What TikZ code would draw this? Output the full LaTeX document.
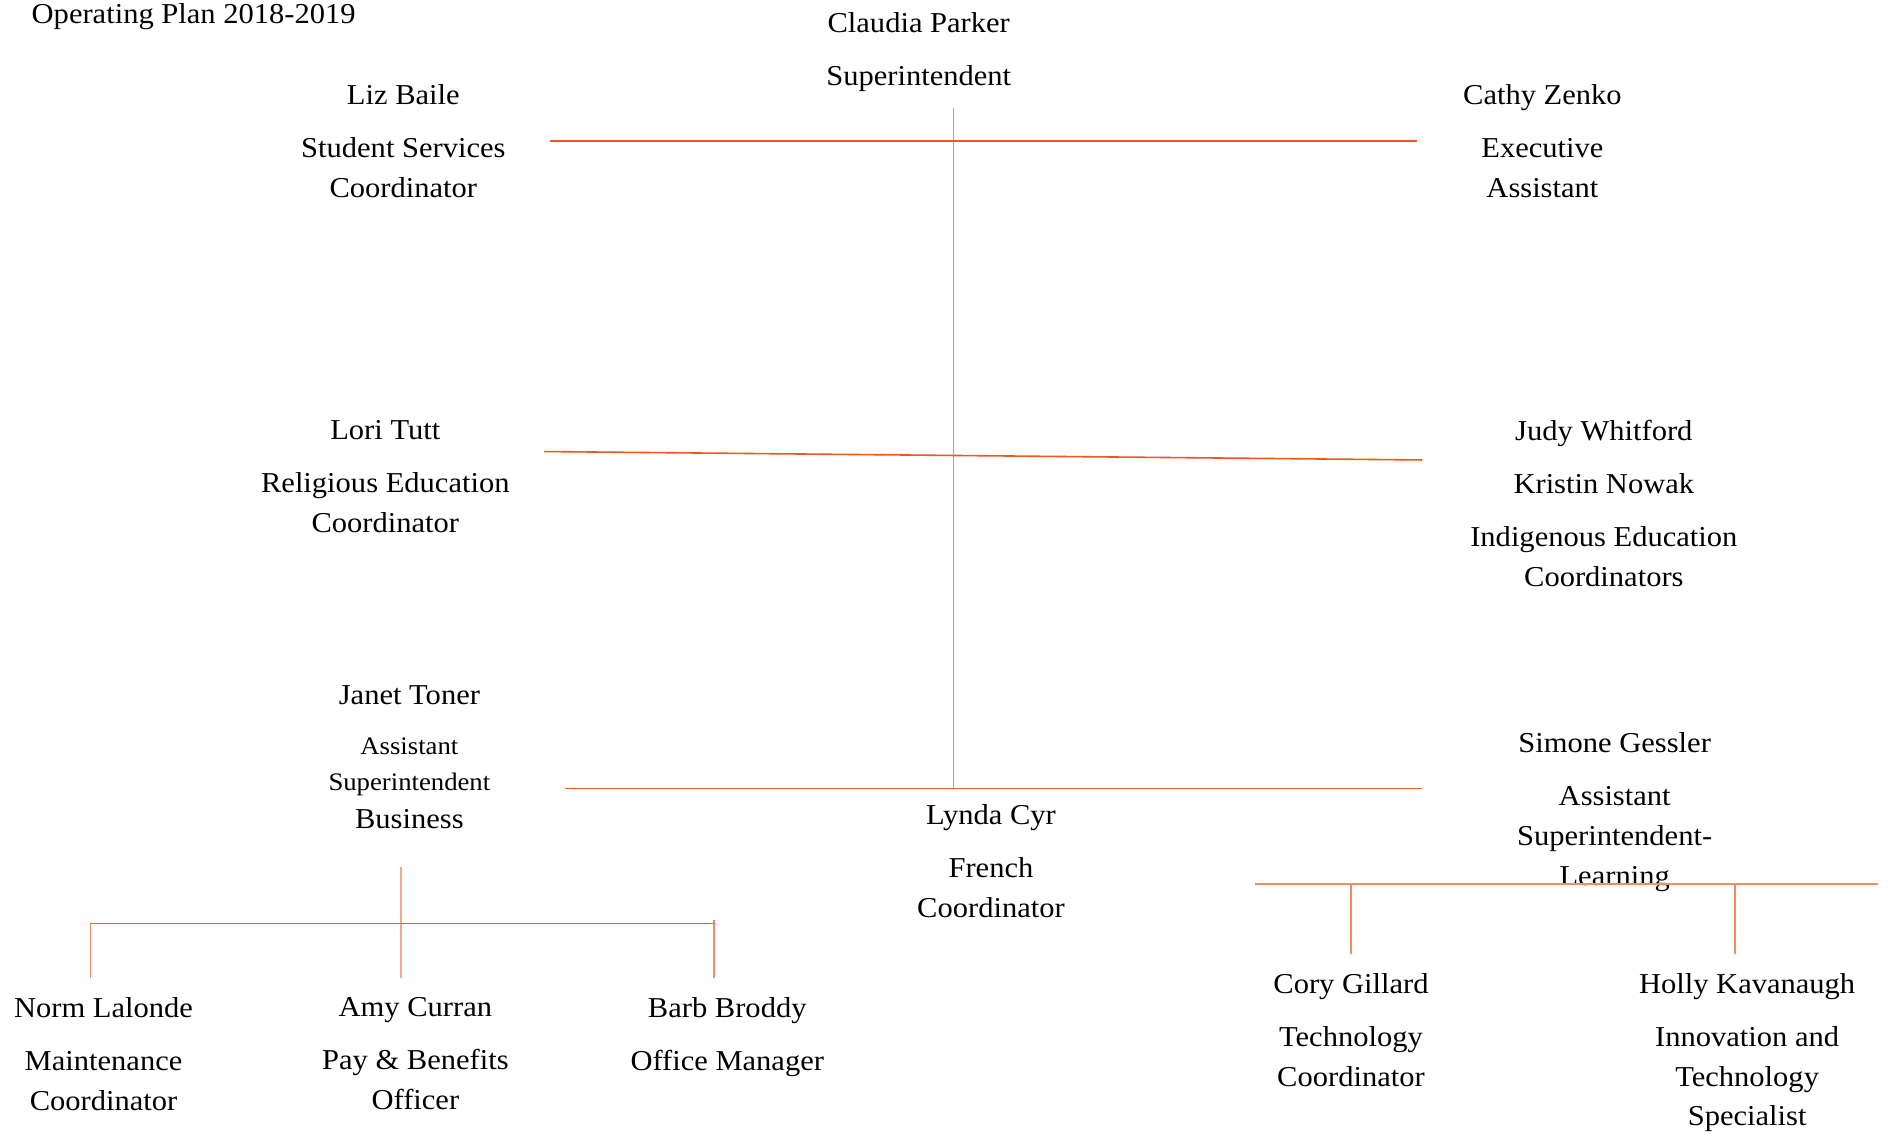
\documentclass[tikz,border=0pt]{standalone}
\usepackage{fontspec}
\setmainfont{Liberation Serif}[FakeStretch=1.06]
\definecolor{lnA}{RGB}{240,86,30}
\definecolor{lnB}{RGB}{243,140,100}
\definecolor{lnC}{RGB}{246,170,140}
\begin{document}
\begin{tikzpicture}[x=0.602pt,y=-0.602pt,
  lab/.style={align=center, anchor=north, inner sep=0pt, font=\fontsize{14.4}{19.9}\selectfont},
  dk/.style={draw=lnA, line width=0.8pt},
  lt/.style={draw=lnB, line width=0.8pt},
  vl/.style={draw=lnC, line width=0.6pt}]
\useasboundingbox (0,0) rectangle (1568,942);

\node[anchor=base west, inner sep=0pt, font=\fontsize{14.4}{19.9}\selectfont] (title) at (26,19.5) {Operating Plan 2018-2019};

\node[lab] (parker) at (763,10) {Claudia Parker\\[6.6pt]Superintendent};
\node[lab] (baile) at (335,70) {Liz Baile\\[6.6pt]Student Services\\Coordinator};
\node[lab] (zenko) at (1281,70) {Cathy Zenko\\[6.6pt]Executive\\Assistant};
\node[lab] (tutt) at (320,349) {Lori Tutt\\[6.6pt]Religious Education\\Coordinator};
\node[lab] (whit) at (1332,349) {Judy Whitford\\[6.6pt]Kristin Nowak\\[6.6pt]Indigenous Education\\Coordinators};
\node[lab] (toner) at (340,569) {Janet Toner\\[5pt]{\fontsize{12.6}{18}\selectfont Assistant}\\[-1.9pt]{\fontsize{12.6}{18}\selectfont Superintendent}\\[-0.6pt]Business};
\node[lab] (cyr) at (823,668) {Lynda Cyr\\[6.6pt]French\\Coordinator};
\node[lab] (gessler) at (1341,608) {Simone Gessler\\[6.6pt]Assistant\\Superintendent-\\Learning};
\node[lab] (gillard) at (1122,808) {Cory Gillard\\[6.6pt]Technology\\Coordinator};
\node[lab] (kav) at (1451,808) {Holly Kavanaugh\\[6.6pt]Innovation and\\Technology\\Specialist};
\node[lab] (lalonde) at (86,828) {Norm Lalonde\\[6.6pt]Maintenance\\Coordinator};
\node[lab] (curran) at (345,828) {Amy Curran\\[6.6pt]Pay \& Benefits\\Officer};
\node[lab] (broddy) at (604,828) {Barb Broddy\\[6.6pt]Office Manager};

\coordinate (vTop) at (792,90);
\coordinate (vBot) at (792,655);
\coordinate (hTopL) at (457,117);
\coordinate (hTopR) at (1177,117);
\coordinate (hMidL) at (452,375);
\coordinate (hMidR) at (1181,382);
\coordinate (hLowL) at (469,655);
\coordinate (hLowR) at (1181,655);
\coordinate (sBarL) at (1042,734);
\coordinate (sBarR) at (1560,734);
\coordinate (sCoryT) at (1122,734);
\coordinate (sCoryB) at (1122,792);
\coordinate (sHolT) at (1441,734);
\coordinate (sHolB) at (1441,792);
\coordinate (jTop) at (333,720);
\coordinate (jBot) at (333,812);
\coordinate (jBarL) at (75,767);
\coordinate (jBarR) at (593,767);
\coordinate (jLB) at (75,812);
\coordinate (jRT) at (593,764);
\coordinate (jRB) at (593,812);

\draw[vl, draw=lnB] (vTop) -- (vBot);
\draw[dk] (hTopL) -- (hTopR);
\draw[dk] (hMidL) -- (hMidR);
\draw[dk] (hLowL) -- (hLowR);
\draw[lt] (sBarL) -- (sBarR);
\draw[lt] (sCoryT) -- (sCoryB);
\draw[lt] (sHolT) -- (sHolB);
\draw[vl] (jTop) -- (jBot);
\draw[dk] (jBarL) -- (jBarR);
\draw[lt] (jBarL) -- (jLB);
\draw[lt] (jRT) -- (jRB);
\end{tikzpicture}
\end{document}
